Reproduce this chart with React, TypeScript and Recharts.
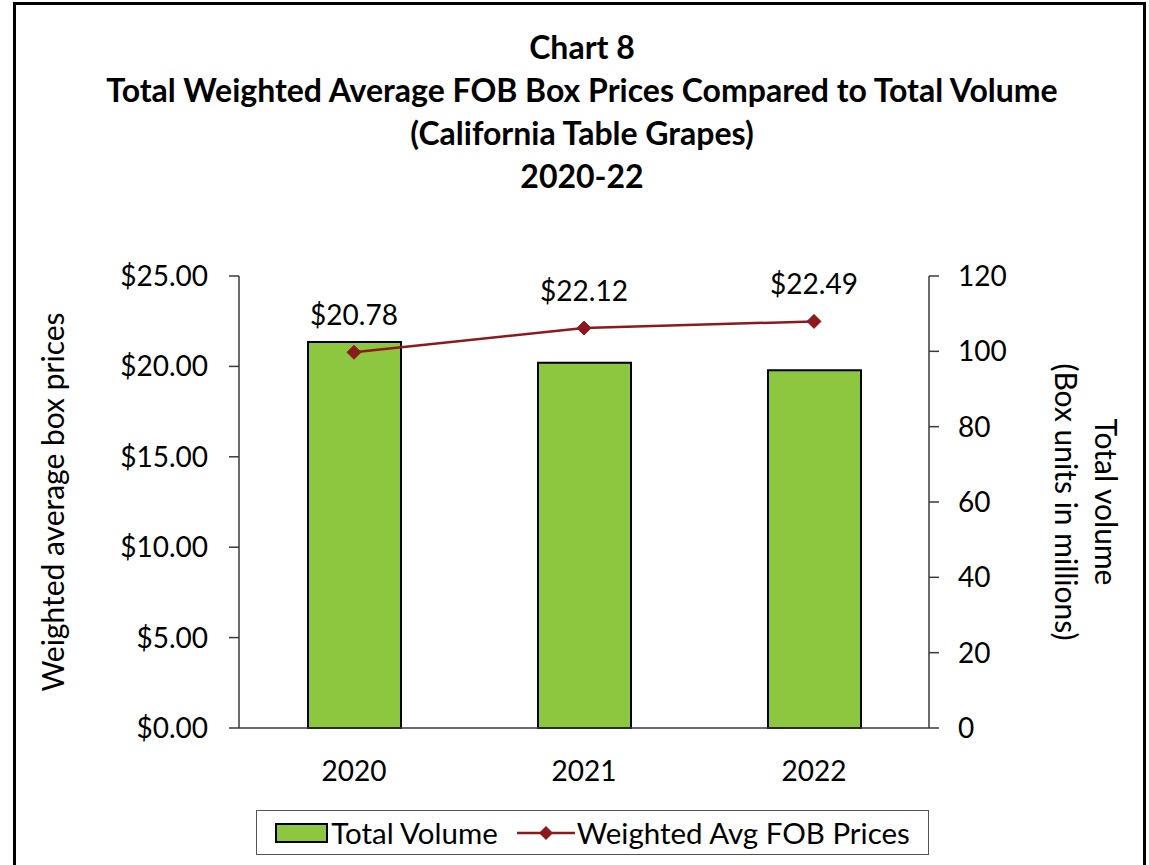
import React from 'react';
import { ComposedChart, Bar, Line, XAxis, YAxis, Legend, LabelList } from 'recharts';

const years = ['2020', '2021', '2022'];
const totalVolume = [102.5, 97.0, 95.0];
const avgFobPrice = [20.78, 22.12, 22.49];
const priceTicks = [0, 5, 10, 15, 20, 25];
const volumeTicks = [0, 20, 40, 60, 80, 100, 120];
const yearBounds = [0, 1, 2, 3];
const titleLines = [
  'Chart 8',
  'Total Weighted Average FOB Box Prices Compared to Total Volume',
  '(California Table Grapes)',
  '2020-22',
];

const data = years.map((year, i) => ({ year, volume: totalVolume[i], price: avgFobPrice[i] }));

const FONT = 'Lato, "Open Sans", sans-serif';
const GREEN = '#8DC63F';
const RED = '#8B1A1E';
const AXIS = '#3a3a3a';

const Diamond = (props: any) => {
  const { cx, cy, index } = props;
  const r = 7;
  return (
    <path
      key={`dot-${index}`}
      d={`M${cx},${cy - r}L${cx + r},${cy}L${cx},${cy + r}L${cx - r},${cy}Z`}
      fill={RED}
      stroke={RED}
    />
  );
};

const LeftTitle = ({ viewBox }: any) => {
  const x = viewBox.x + 52;
  const y = viewBox.y + viewBox.height / 2;
  return (
    <text x={x} y={y} transform={`rotate(-90 ${x} ${y})`} textAnchor="middle" dominantBaseline="central"
      fontFamily={FONT} fontSize={30} fill="#000">
      Weighted average box prices
    </text>
  );
};

const RightTitle = ({ viewBox }: any) => {
  const y = viewBox.y + viewBox.height / 2;
  const x1 = viewBox.x + 178;
  const x2 = viewBox.x + 138;
  return (
    <g fontFamily={FONT} fontSize={30} fill="#000">
      <text x={x1} y={y} transform={`rotate(90 ${x1} ${y})`} textAnchor="middle" dominantBaseline="central">
        Total volume
      </text>
      <text x={x2} y={y} transform={`rotate(90 ${x2} ${y})`} textAnchor="middle" dominantBaseline="central">
        (Box units in millions)
      </text>
    </g>
  );
};

const LegendBox = ({ payload }: any) => {
  const items = [...(payload || [])].sort((a: any) => (a.type === 'rect' ? -1 : 1));
  return (
    <div style={{
      boxSizing: 'border-box', width: '100%', height: '100%', border: '1.5px solid #555',
      display: 'flex', alignItems: 'center', justifyContent: 'center', gap: 19,
      fontFamily: FONT, fontSize: 29.5, color: '#000', background: '#fff',
    }}>
      {items.map((it: any) => (
        <div key={it.value} style={{ display: 'flex', alignItems: 'center' }}>
          {it.type === 'rect' ? (
            <svg width={54} height={20}><rect x={1} y={1} width={51} height={18} fill={GREEN} stroke="#000" strokeWidth={2} /></svg>
          ) : (
            <svg width={58} height={20}>
              <line x1={0} y1={10} x2={58} y2={10} stroke={RED} strokeWidth={2.5} />
              <path d="M29,3L36,10L29,17L22,10Z" fill={RED} />
            </svg>
          )}
          <span style={{ marginLeft: 2 }}>{it.value}</span>
        </div>
      ))}
    </div>
  );
};

export default function App() {
  return (
    <div style={{ position: 'absolute', left: 0, top: 0, width: 1149, height: 865, background: '#fff', overflow: 'hidden' }}>
      <div style={{
        position: 'absolute', left: 13, top: 2, width: 1133, height: 870, boxSizing: 'border-box',
        borderTop: '3px solid #000', borderLeft: '3px solid #000', borderRight: '3px solid #000',
      }} />
      <div style={{
        position: 'absolute', left: 0, top: 25, width: 1164, textAlign: 'center',
        fontFamily: FONT, fontWeight: 700, fontSize: 32, lineHeight: '43px', color: '#000',
      }}>
        {titleLines.map((t) => <div key={t}>{t}</div>)}
      </div>
      <div style={{ position: 'absolute', left: 0, top: 0 }}>
        <ComposedChart width={1149} height={865} data={data} margin={{ top: 276, right: 0, bottom: 0, left: 0 }}>
          <XAxis xAxisId="bounds" type="number" domain={[0, 3]} ticks={yearBounds} tickFormatter={() => ''}
            axisLine={false} tickSize={10} height={0} tickLine={{ stroke: AXIS, strokeWidth: 1.5 }} />
          <XAxis dataKey="year" height={137} tickLine={false} tickSize={0} tickMargin={33}
            axisLine={{ stroke: AXIS, strokeWidth: 1.5 }}
            tick={{ fill: '#000', fontSize: 28, fontFamily: FONT }} />
          <YAxis yAxisId="left" orientation="left" width={239} domain={[0, 25]} ticks={priceTicks}
            tickFormatter={(v: number) => `$${v.toFixed(2)}`} tickSize={10} tickMargin={21}
            axisLine={{ stroke: AXIS, strokeWidth: 1.5 }} tickLine={{ stroke: AXIS, strokeWidth: 1.5 }}
            tick={{ fill: '#000', fontSize: 28, fontFamily: FONT }} label={<LeftTitle />} />
          <YAxis yAxisId="right" orientation="right" width={220} domain={[0, 120]} ticks={volumeTicks}
            tickSize={10} tickMargin={19}
            axisLine={{ stroke: AXIS, strokeWidth: 1.5 }} tickLine={{ stroke: AXIS, strokeWidth: 1.5 }}
            tick={{ fill: '#000', fontSize: 28, fontFamily: FONT, textAnchor: 'start' }} label={<RightTitle />} />
          <Bar yAxisId="right" dataKey="volume" name="Total Volume" fill={GREEN} stroke="#000" strokeWidth={2}
            barSize={93} isAnimationActive={false} legendType="rect" />
          <Line yAxisId="left" dataKey="price" name="Weighted Avg FOB Prices" stroke={RED} strokeWidth={2.5}
            dot={Diamond} activeDot={false} isAnimationActive={false} legendType="line">
            <LabelList dataKey="price" position="top" offset={27} fill="#000" fontSize={28} fontFamily={FONT}
              formatter={(v: any) => `$${Number(v).toFixed(2)}`} />
          </Line>
          <Legend layout="horizontal" verticalAlign="middle" align="center"
            wrapperStyle={{ left: 256, top: 810, width: 673, height: 45 }} content={<LegendBox />} />
        </ComposedChart>
      </div>
    </div>
  );
}
